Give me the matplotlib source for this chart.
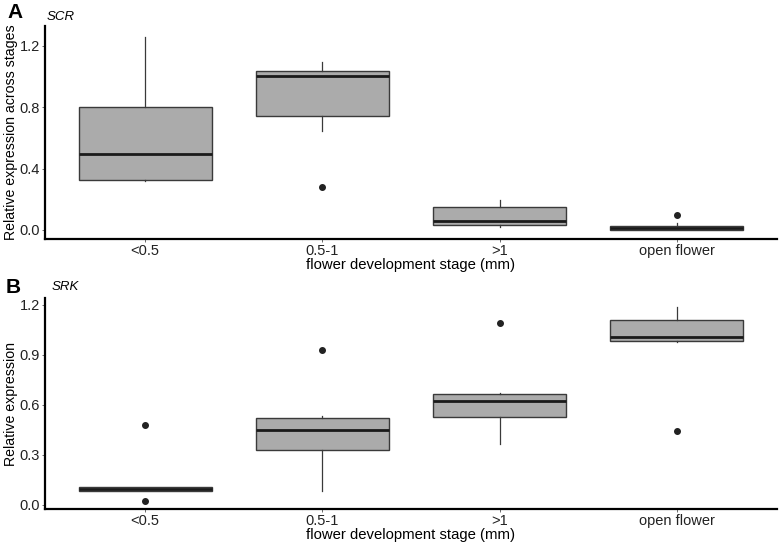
import matplotlib
matplotlib.use("Agg")
import matplotlib.pyplot as plt

plt.rcParams['font.family'] = ['Liberation Sans', 'DejaVu Sans']

stages = ['<0.5', '0.5-1', '>1', 'open flower']

# panel A: SCR (summary stats)
scr_q1 = [0.326, 0.744, 0.035, 0.002]
scr_med = [0.496, 1.005, 0.059, 0.010]
scr_q3 = [0.800, 1.037, 0.150, 0.024]
scr_lo = [0.320, 0.648, 0.018, 0.000]
scr_hi = [1.260, 1.096, 0.196, 0.044]
scr_out = [[], [0.278], [], [0.096]]

# panel B: SRK
srk_q1 = [0.086, 0.328, 0.530, 0.984]
srk_med = [0.095, 0.448, 0.624, 1.008]
srk_q3 = [0.110, 0.520, 0.666, 1.106]
srk_lo = [0.086, 0.086, 0.366, 0.978]
srk_hi = [0.110, 0.536, 0.670, 1.184]
srk_out = [[0.478, 0.026], [0.926], [1.090], [0.442]]


def make_stats(q1, med, q3, lo, hi, out):
    return [dict(q1=a, med=b, q3=c, whislo=d, whishi=e, fliers=f)
            for a, b, c, d, e, f in zip(q1, med, q3, lo, hi, out)]


def panel(ax, stats, ylim, yticks, ylab):
    ax.bxp(stats, positions=[1, 2, 3, 4], widths=0.75, patch_artist=True,
           showcaps=False,
           boxprops=dict(facecolor='#ababab', edgecolor='#3a3a3a', linewidth=1.0),
           medianprops=dict(color='#1a1a1a', linewidth=2.0),
           whiskerprops=dict(color='#3a3a3a', linewidth=0.9),
           flierprops=dict(marker='o', markersize=4, markerfacecolor='#222222',
                           markeredgecolor='#222222'))
    ax.set_xlim(0.436, 4.564)
    ax.set_ylim(*ylim)
    ax.set_yticks(yticks)
    ax.set_yticklabels([f'{t:.1f}' for t in yticks])
    ax.set_xticks([1, 2, 3, 4])
    ax.set_xticklabels(stages)
    ax.tick_params(length=2, width=0.6, color='#555555', labelsize=10.5,
                   labelcolor='#222222', pad=1.5)
    for s in ['top', 'right']:
        ax.spines[s].set_visible(False)
    for s in ['left', 'bottom']:
        ax.spines[s].set_linewidth(1.6)
        ax.spines[s].set_color('black')
    ax.set_ylabel(ylab, fontsize=10.2, labelpad=1.5)
    ax.set_xlabel('flower development stage (mm)', fontsize=10.7, labelpad=0)


fig = plt.figure(figsize=(7.84, 5.5), dpi=100)
axA = fig.add_axes([45 / 784, (550 - 239) / 550, 732 / 784, 213 / 550])
axB = fig.add_axes([45 / 784, 41 / 550, 732 / 784, 211 / 550])

panel(axA, make_stats(scr_q1, scr_med, scr_q3, scr_lo, scr_hi, scr_out),
      (-0.059, 1.33), [0.0, 0.4, 0.8, 1.2],
      'Relative expression across stages')
panel(axB, make_stats(srk_q1, srk_med, srk_q3, srk_lo, srk_hi, srk_out),
      (-0.024, 1.24), [0.0, 0.3, 0.6, 0.9, 1.2],
      'Relative expression')

# panel letters and gene names
fig.text(15.5 / 784, 1 - 12.5 / 550, 'A', fontsize=15, fontweight='bold',
         ha='center', va='center')
fig.text(47 / 784, 1 - 17 / 550, 'SCR', fontsize=9.5, style='italic',
         ha='left', va='center')
fig.text(13.5 / 784, 1 - 287.5 / 550, 'B', fontsize=15, fontweight='bold',
         ha='center', va='center')
fig.text(52 / 784, 1 - 287.5 / 550, 'SRK', fontsize=9.5, style='italic',
         ha='left', va='center')

fig.savefig('out.png', dpi=100)
